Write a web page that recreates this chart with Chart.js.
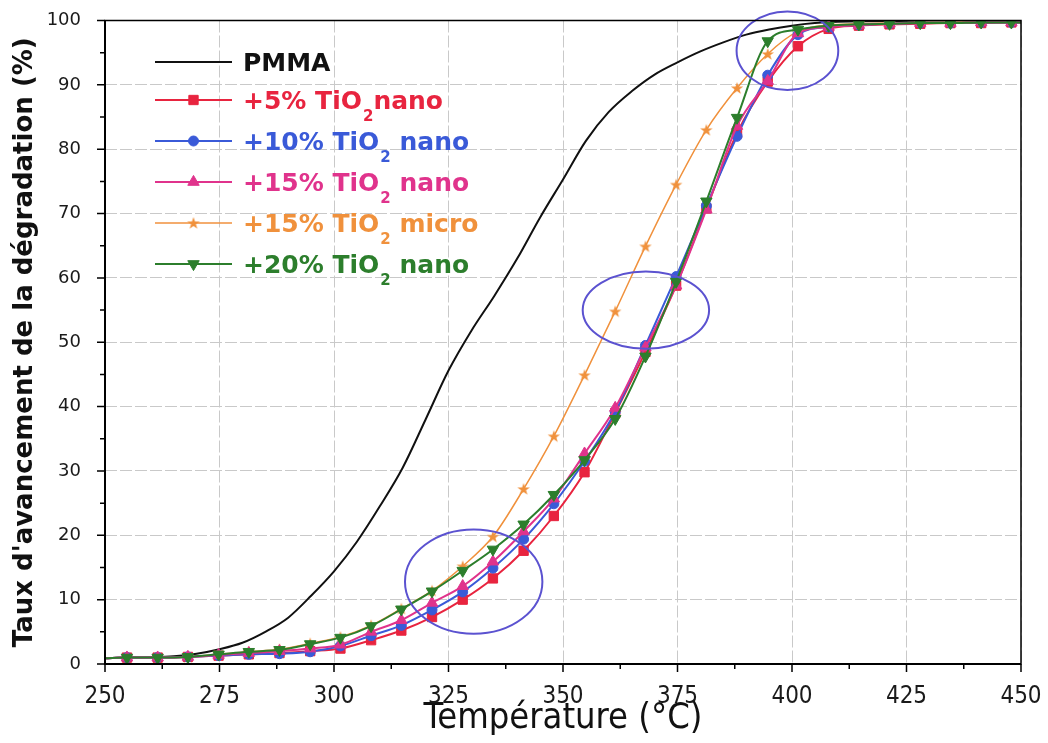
<!DOCTYPE html>
<html><head><meta charset="utf-8">
<script src="https://cdn.jsdelivr.net/npm/chart.js@4.4.0/dist/chart.umd.min.js"></script>
<style>html,body{margin:0;padding:0;background:#fff}#wrap{width:1048px;height:743px;position:relative}</style>
</head><body><div id="wrap"><canvas id="c"></canvas></div>
<script>
// ---------- DATA ----------
const temperatures = [250, 254.8, 261.5, 268.1, 274.8, 281.4, 288.1, 294.8, 301.4, 308.1, 314.7, 321.4, 328.1, 334.7, 341.4, 348.0, 354.7, 361.4, 368.0, 374.7, 381.3, 388.0, 394.7, 401.3, 408.0, 414.6, 421.3, 428.0, 434.6, 441.3, 447.9, 450];
const tio2Nano5  = [0.9, 1.0,1.0,1.1,1.3,1.5,1.7,2.0,2.4,3.7,5.2, 7.3,10.0,13.3,17.6,23.0,29.8,39.0,48.5,58.8,70.8, 82.5,90.5,96.0,98.7,99.2,99.4,99.5,99.6,99.6,99.7, 99.7];
const tio2Nano10 = [0.9, 1.0,1.0,1.1,1.3,1.5,1.6,1.9,2.8,4.4,6.0, 8.4,11.2,14.9,19.4,24.9,31.5,39.2,49.5,60.2,71.2, 82.0,91.5,97.8,99.0,99.3,99.5,99.6,99.6,99.7,99.7, 99.7];
const tio2Nano15 = [0.9, 1.0,1.0,1.1,1.4,1.7,2.0,2.4,3.0,5.0,6.8, 9.5,12.1,15.9,20.6,25.7,32.7,39.8,49.2,58.8,70.6, 83.6,90.6,98.0,99.0,99.3,99.5,99.6,99.6,99.7,99.7, 99.7];
const tio2Micro15= [0.9, 1.0,1.0,1.1,1.5,1.9,2.3,3.2,4.2,6.0,8.6, 11.4,15.2,19.8,27.2,35.4,44.9,54.8,64.9,74.5,83.0, 89.5,94.8,98.3,99.3,99.5,99.6,99.7,99.7,99.8,99.8, 99.8];
const tio2Nano20 = [0.9, 1.0,1.0,1.1,1.5,1.9,2.2,3.1,4.1,5.9,8.5, 11.3,14.5,17.8,21.7,26.3,31.7,38.1,47.8,59.4,71.9, 84.9,96.8,98.6,99.2,99.4,99.5,99.6,99.6,99.7,99.7, 99.7];
const pmmaTemps  = [250,255,260,265,270,275,280,285,290,295,300,305,310,315,320,325,330,335,340,345,350,355,360,365,370,375,380,385,390,395,400,405,410,420,430,440,450];
const pmmaValues = [0.9,1.0,1.05,1.2,1.6,2.3,3.3,5.0,7.2,10.6,14.4,19.0,24.5,30.5,38.0,45.6,51.8,57.2,63.0,69.4,75.3,81.3,85.8,89.0,91.6,93.5,95.2,96.6,97.8,98.6,99.2,99.6,99.8,99.9,100,100,100];
const xTicks = [250,275,300,325,350,375,400,425,450];
const yTicks = [0,10,20,30,40,50,60,70,80,90,100];
const legendPrefix = ['PMMA','+5% TiO','+10% TiO','+15% TiO','+15% TiO','+20% TiO'];
const legendSub    = ['','2','2','2','2','2'];
const legendSuffix = ['','nano',' nano',' nano',' micro',' nano'];
// annotation ellipses (data coordinates)
const ellipseT  = [330.5, 368.1, 399.0];
const ellipseV  = [12.8, 55.0, 95.3];
const ellipseRT = [15.0, 13.8, 11.1];
const ellipseRV = [8.1, 6.0, 6.1];

// ---------- STYLE ----------
const C = {pmma:'#111111', red:'#E8243F', blue:'#3A5AD8', pink:'#E0338C', orange:'#F0913C', green:'#2C7E2C', ell:'#5B52D0'};
function starImage(color){
  const cv=document.createElement('canvas'); cv.width=14; cv.height=14;
  const g=cv.getContext('2d'); g.fillStyle=color; g.beginPath();
  for(let i=0;i<10;i++){const r=i%2?2.6:6.5; const a=-Math.PI/2+i*Math.PI/5; g.lineTo(7+r*Math.cos(a),7.5+r*Math.sin(a));}
  g.closePath(); g.fill(); return cv;
}
const star = starImage(C.orange);
const n = temperatures.length;
const endR = (r)=> (ctx)=> (ctx.dataIndex===0||ctx.dataIndex===n-1)?0:r;
const pts = (vals)=> temperatures.map((t,i)=>({x:t,y:vals[i]}));
const R = {rect:6.6, circle:5.0, triangle:6.6};

const datasets = [
  {label:'PMMA', data:pmmaTemps.map((t,i)=>({x:t,y:pmmaValues[i]})), borderColor:C.pmma, borderWidth:2, pointRadius:0, order:6},
  {label:'+5% TiO₂nano', data:pts(tio2Nano5), borderColor:C.red, backgroundColor:C.red, borderWidth:2, pointStyle:'rect', pointRadius:endR(R.rect), pointBorderWidth:1, order:4},
  {label:'+10% TiO₂ nano', data:pts(tio2Nano10), borderColor:C.blue, backgroundColor:C.blue, borderWidth:2, pointStyle:'circle', pointRadius:endR(R.circle), pointBorderWidth:1, order:3},
  {label:'+15% TiO₂ nano', data:pts(tio2Nano15), borderColor:C.pink, backgroundColor:C.pink, borderWidth:2, pointStyle:'triangle', pointRadius:endR(R.triangle), pointBorderWidth:1, order:2},
  {label:'+15% TiO₂ micro', data:pts(tio2Micro15), borderColor:C.orange, backgroundColor:C.orange, borderWidth:1.5, pointStyle:star, pointRadius:endR(5), order:5},
  {label:'+20% TiO₂ nano', data:pts(tio2Nano20), borderColor:C.green, backgroundColor:C.green, borderWidth:2, pointStyle:'triangle', pointRotation:180, pointRadius:endR(R.triangle), pointBorderWidth:1, order:1},
];

const overlay = {
  id:'overlay',
  afterDatasetsDraw(chart){
    const {ctx, scales:{x,y}} = chart;
    ctx.save(); ctx.strokeStyle=C.ell; ctx.lineWidth=2;
    for(let i=0;i<ellipseT.length;i++){
      const cx=x.getPixelForValue(ellipseT[i]), cy=y.getPixelForValue(ellipseV[i]);
      const rx=x.getPixelForValue(ellipseT[i]+ellipseRT[i])-cx, ry=cy-y.getPixelForValue(ellipseV[i]+ellipseRV[i]);
      ctx.beginPath(); ctx.ellipse(cx,cy,rx,ry,0,0,Math.PI*2); ctx.stroke();
    }
    ctx.restore();
  },
  afterDraw(chart){
    const {ctx, chartArea:a, scales:{x,y}} = chart;
    ctx.save();
    ctx.strokeStyle='#000'; ctx.lineWidth=1.5; ctx.strokeRect(a.left,a.top,a.right-a.left,a.bottom-a.top);
    ctx.lineWidth=2; ctx.beginPath(); ctx.moveTo(a.left,a.top); ctx.lineTo(a.left,a.bottom); ctx.lineTo(a.right,a.bottom); ctx.stroke();
    ctx.lineWidth=1.5; ctx.beginPath();
    for(let v=0; v<=100; v+=5){const py=y.getPixelForValue(v); const L=(v%10===0)?8:5; ctx.moveTo(a.left-L,py); ctx.lineTo(a.left,py);}
    for(let t=250; t<=450; t+=12.5){const px=x.getPixelForValue(t); const L=(t%25===0)?8:5; ctx.moveTo(px,a.bottom); ctx.lineTo(px,a.bottom+L);}
    ctx.stroke();
    const rowY=[62,100,141,182,223,264];
    chart.data.datasets.forEach((ds,i)=>{
      const yy=rowY[i];
      ctx.strokeStyle=ds.borderColor; ctx.lineWidth=ds.borderWidth;
      ctx.beginPath(); ctx.moveTo(155,yy); ctx.lineTo(232,yy); ctx.stroke();
      if(i>0){
        ctx.fillStyle=ds.backgroundColor; ctx.strokeStyle=ds.borderColor; ctx.lineWidth=1;
        const r = R[ds.pointStyle]||5;
        Chart.helpers.drawPoint(ctx,{pointStyle:ds.pointStyle,rotation:ds.pointRotation||0,radius:r,borderWidth:1},193.5,yy);
      }
      ctx.fillStyle=ds.borderColor; ctx.textBaseline='alphabetic';
      ctx.font='bold 25px "DejaVu Sans"';
      let xx=243; ctx.fillText(legendPrefix[i],xx,yy+9); xx+=ctx.measureText(legendPrefix[i]).width;
      if(legendSub[i]){ctx.font='bold 15px "DejaVu Sans"'; ctx.fillText(legendSub[i],xx+1,yy+21); xx+=ctx.measureText(legendSub[i]).width+1;}
      ctx.font='bold 25px "DejaVu Sans"'; ctx.fillText(legendSuffix[i],xx,yy+9);
    });
    ctx.restore();
  }
};

const gridCommon = {color:'#c9c9c9', lineWidth:1, tickLength:8, tickColor:'rgba(0,0,0,0)', drawTicks:true};
new Chart(document.getElementById('c'), {
  type:'line',
  data:{datasets},
  options:{
    responsive:true, maintainAspectRatio:false, animation:false,
    layout:{padding:{left:0,right:27,top:20.5,bottom:0}},
    elements:{line:{cubicInterpolationMode:'monotone', fill:false}},
    plugins:{legend:{display:false}, tooltip:{enabled:false}},
    scales:{
      x:{type:'linear', min:250, max:450,
        afterBuildTicks:(s)=>{s.ticks=xTicks.map(v=>({value:v}));},
        ticks:{autoSkip:false, maxRotation:0, padding:10, color:'#1a1a1a', font:{family:'"Liberation Sans Narrow", "DejaVu Sans Condensed", sans-serif', size:24}},
        grid:gridCommon, border:{display:false, dash:[12,3]},
        title:{display:true, text:'Température (°C)', color:'#111', font:{family:'"Liberation Sans Narrow", "DejaVu Sans Condensed", sans-serif', size:36}, padding:{top:0,bottom:3}},
        afterFit:(s)=>{s.height=79; s.paddingLeft=0; s.paddingRight=0;}
      },
      y:{min:0, max:100,
        afterBuildTicks:(s)=>{s.ticks=yTicks.map(v=>({value:v}));},
        ticks:{autoSkip:false, padding:16, color:'#1a1a1a', font:{family:'"DejaVu Sans"', size:18}},
        grid:gridCommon, border:{display:false, dash:[12,3]},
        title:{display:true, text:"Taux d'avancement de la dégradation (%)", color:'#111', font:{family:'"DejaVu Sans"', size:26, weight:'bold'}, padding:{top:10,bottom:0}},
        afterFit:(s)=>{s.width=105; s.paddingTop=0; s.paddingBottom=0;}
      }
    }
  },
  plugins:[overlay]
});
</script></body></html>
